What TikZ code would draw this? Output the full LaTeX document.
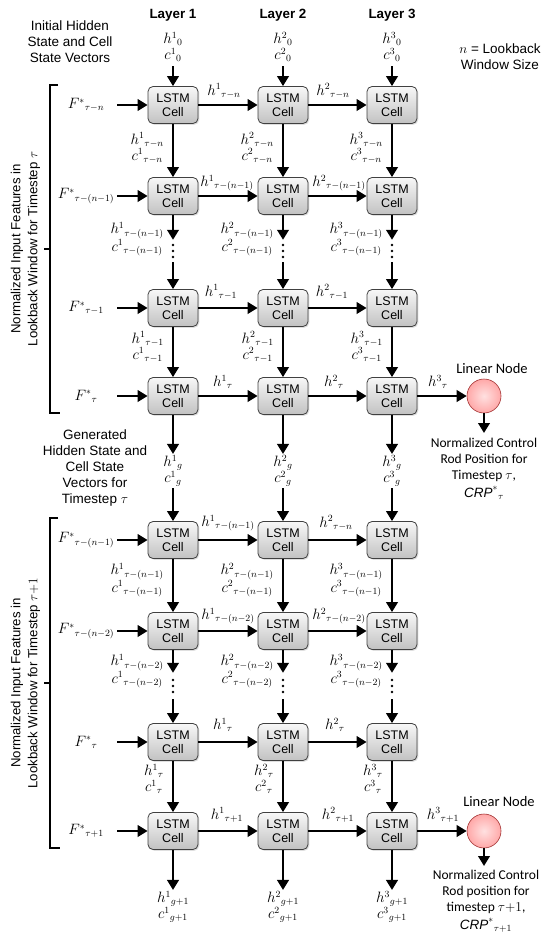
\RequirePackage{fix-cm}
\documentclass[tikz,border=0pt]{standalone}
\usepackage{fontspec}
\setmainfont{Liberation Sans}
\newfontfamily\calib{Carlito}
\usetikzlibrary{arrows.meta,shadows}
\DeclareMathSizes{15}{15}{9.5}{7}
\newcommand{\HCpair}[2]{${h^{#1}}_{#2}$\\${c^{#1}}_{#2}$}
\begin{document}
\begin{tikzpicture}[x=1pt,y=-1pt,
  cell/.style={draw=black!75, line width=0.8pt, rounded corners=5pt,
    minimum width=50pt, minimum height=37pt, inner sep=0pt,
    top color=gray!6, bottom color=gray!48, align=center,
    font=\fontsize{12.5}{14}\selectfont,
    drop shadow={opacity=0.25,shadow xshift=1.3pt,shadow yshift=-1.3pt}},
  lin/.style={circle, minimum size=34pt, inner sep=0pt, draw=red!55!black!80, line width=0.6pt,
    inner color=red!12, outer color=red!34},
  arr/.style={line width=2.3pt, -{Triangle[length=10pt,width=11.5pt]}},
  ml/.style={font=\fontsize{15}{16}\selectfont, inner sep=1pt, align=center},
  txt/.style={font=\fontsize{13.5}{16}\selectfont, align=center, inner sep=0pt},
  cal/.style={font=\calib\fontsize{13.5}{16}\selectfont, align=center, inner sep=1pt},
  rot/.style={font=\fontsize{13.2}{17}\selectfont, align=center, rotate=90, inner sep=0pt},
  brk/.style={line width=1.6pt},
  dotsbox/.style={minimum width=4pt, inner sep=0pt}
]
\useasboundingbox (0,0) rectangle (550,937);

% ---------- cells ----------
\foreach \c/\x in {1/173,2/283,3/392}{
  \foreach \r/\y in {1/105,2/196,3/308,4/396,5/540,6/631,7/742,8/831}{
    \node[cell] (c\r\c) at (\x,\y) {LSTM\\Cell};
  }
}
\node[lin] (L1) at (484,396) {};
\node[lin] (L2) at (484,831) {};

% ---------- top labels ----------
\node[txt] (init) at (70,42) {Initial Hidden\\State and Cell\\State Vectors};
\node[txt] (nlab) at (500,57) {$n$ = Lookback\\Window Size};
\foreach \c/\x in {1/173,2/283,3/392}{
  \node[txt,font=\bfseries\fontsize{13.4}{15}\selectfont] (lay\c) at (\x,15) {Layer \c};
  \node[ml] (z\c) at (\x,47) {\HCpair{\c}{0}};
  \draw[arr,shorten <=3pt] (z\c) -- (c1\c);
}

% ---------- vertical connectors and labels ----------
\foreach \c/\x in {1/173,2/283,3/392}{
  % section 1
  \node[ml,anchor=east] (va\c) at ({\x-8},148) {\HCpair{\c}{\tau-n}};
  \draw[arr] (c1\c) -- (c2\c);
  \node[ml,anchor=east] (vb\c) at ({\x-8},239) {\HCpair{\c}{\tau-(n-1)}};
  \node[dotsbox,minimum height=22pt] (dA\c) at (\x,251) {};
  \fill (\x,245) circle[radius=1.3pt] (\x,251) circle[radius=1.3pt] (\x,257) circle[radius=1.3pt];
  \draw[arr] (c2\c) -- (dA\c.north);
  \draw[arr] (dA\c.south) -- (c3\c);
  \node[ml,anchor=east] (vc\c) at ({\x-8},347) {\HCpair{\c}{\tau-1}};
  \draw[arr] (c3\c) -- (c4\c);
  \node[ml] (g\c) at (\x,471) {\HCpair{\c}{g}};
  \draw[arr] (c4\c) -- (g\c.north);
  \draw[arr] (g\c.south) -- (c5\c);
  % section 2
  \node[ml,anchor=east] (vd\c) at ({\x-8},580) {\HCpair{\c}{\tau-(n-1)}};
  \draw[arr] (c5\c) -- (c6\c);
  \node[ml,anchor=east] (ve\c) at ({\x-8},671) {\HCpair{\c}{\tau-(n-2)}};
  \node[dotsbox,minimum height=26pt] (dB\c) at (\x,686) {};
  \fill (\x,680) circle[radius=1.3pt] (\x,686) circle[radius=1.3pt] (\x,692) circle[radius=1.3pt];
  \draw[arr] (c6\c) -- (dB\c.north);
  \draw[arr] (dB\c.south) -- (c7\c);
  \node[ml,anchor=east] (vf\c) at ({\x-8},779) {\HCpair{\c}{\tau}};
  \draw[arr] (c7\c) -- (c8\c);
  \node[ml] (gg\c) at (\x,907) {\HCpair{\c}{g+1}};
  \draw[arr] (c8\c) -- (gg\c.north);
}

% ---------- horizontal connectors ----------
\foreach \r in {1,...,8}{
  \draw[arr] (c\r1) -- (c\r2);
  \draw[arr] (c\r2) -- (c\r3);
}
\draw[arr] (c43) -- (L1);
\draw[arr] (c83) -- (L2);

% horizontal labels
\node[ml] (ha1) at (224,91) {${h^{1}}_{\tau-n}$};
\node[ml] (ha2) at (333,91) {${h^{2}}_{\tau-n}$};
\node[ml] (hb1) at (227,183) {${h^{1}}_{\tau-(n-1)}$};
\node[ml] (hb2) at (339,183) {${h^{2}}_{\tau-(n-1)}$};
\node[ml] (hc1) at (221,292) {${h^{1}}_{\tau-1}$};
\node[ml] (hc2) at (332,292) {${h^{2}}_{\tau-1}$};
\node[ml] (hd1) at (223,382) {${h^{1}}_{\tau}$};
\node[ml] (hd2) at (334,382) {${h^{2}}_{\tau}$};
\node[ml] (hd3) at (438,382) {${h^{3}}_{\tau}$};
\node[ml] (he1) at (228,523) {${h^{1}}_{\tau-(n-1)}$};
\node[ml] (he2) at (336,523) {${h^{2}}_{\tau-n}$};
\node[ml] (hf1) at (228,616) {${h^{1}}_{\tau-(n-2)}$};
\node[ml] (hf2) at (339,616) {${h^{2}}_{\tau-(n-2)}$};
\node[ml] (hg1) at (223,725) {${h^{1}}_{\tau}$};
\node[ml] (hg2) at (335,725) {${h^{2}}_{\tau}$};
\node[ml] (hh1) at (227,815) {${h^{1}}_{\tau+1}$};
\node[ml] (hh2) at (338,815) {${h^{2}}_{\tau+1}$};
\node[ml] (hh3) at (443,815) {${h^{3}}_{\tau+1}$};

% ---------- inputs ----------
\foreach \r/\y/\lab in {1/105/{\tau-n},2/196/{\tau-(n-1)},3/308/{\tau-1},4/396/{\tau},
                        5/540/{\tau-(n-1)},6/631/{\tau-(n-2)},7/742/{\tau},8/831/{\tau+1}}{
  \node[ml] (f\r) at (86,\y) {${F^{*}}_{\lab}$};
  \coordinate (s\r) at (117,\y);
  \draw[arr] (s\r) -- (c\r1);
}

% ---------- linear node outputs ----------
\node[cal,font=\calib\fontsize{14.5}{16}\selectfont] (ln1) at (492,369) {Linear Node};
\node[cal,font=\calib\fontsize{14.5}{16}\selectfont] (ln2) at (499,802) {Linear Node};
\node[cal,anchor=north] (t1) at (484,437) {Normalized Control\\Rod Position for\\Timestep $\tau$,\\[1.5pt]${\mathit{CRP}^{*}}_{\tau}$};
\node[cal,anchor=north] (t2) at (486,869) {Normalized Control\\Rod position for\\timestep $\tau{+}1$,\\[1.5pt]${\mathit{CRP}^{*}}_{\tau+1}$};
\draw[arr,shorten >=4pt] (L1.south) -- (L1.south |- t1.north);
\draw[arr,shorten >=3pt] (L2.south) -- (L2.south |- t2.north);

% ---------- side texts ----------
\node[txt] (gen) at (95,468) {Generated\\Hidden State and\\Cell State\\Vectors for\\Timestep $\tau$};
\draw[brk] (58,85) -- (50,85) -- (50,413) -- (60,413);
\draw[brk] (50,249) -- (44,249);
\draw[brk] (58,518) -- (50,518) -- (50,848) -- (60,848);
\draw[brk] (50,683) -- (44,683);
\node[rot] (side1) at (25.5,249) {Normalized Input Features in\\Lookback Window for Timestep $\tau$};
\node[rot] (side2) at (25.5,683) {Normalized Input Features in\\Lookback Window for Timestep $\tau{+}1$};
\end{tikzpicture}
\end{document}
